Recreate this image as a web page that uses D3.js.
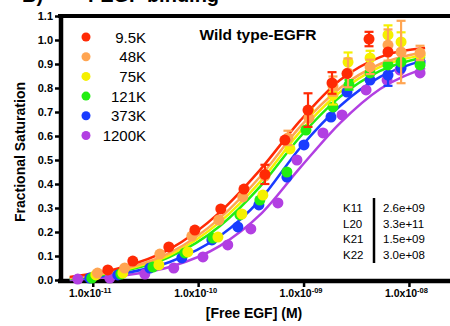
<!DOCTYPE html>
<html>
<head>
<meta charset="utf-8">
<script src="https://cdn.jsdelivr.net/npm/d3@7"></script>
<style>
    body { margin: 0; background: #fff; }
    svg { display: block; font-family: "Liberation Sans", Arial, sans-serif; }
</style>
</head>
<body>
<div id="chart"></div>
<script>
const width = 450;
const height = 326;

// legend / series
const seriesNames = ["9.5K", "48K", "75K", "121K", "373K", "1200K"];
const seriesColors = ["#ff2a05", "#ffa552", "#f5f000", "#22ee11", "#1a3cff", "#b23fe2"];

// free EGF (pM) / fractional saturation / error
const conc95 = [13.9, 24.0, 52.7, 93.1, 164, 272, 430, 665, 1102, 1862, 2582, 4178, 6324];
const sat95 = [0.042, 0.079, 0.138, 0.208, 0.296, 0.379, 0.44, 0.583, 0.708, 0.821, 0.86, 1.004, 0.95];
const err95 = [0, 0, 0, 0, 0, 0, 0.04, 0, 0.07, 0.045, 0, 0.03, 0];

const conc48 = [11.1, 20.1, 43.3, 87.1, 157, 265, 430, 711, 1125, 1901, 2642, 4276, 6324, 8414, 12735];
const sat48 = [0.029, 0.05, 0.108, 0.183, 0.25, 0.346, 0.433, 0.592, 0.675, 0.808, 0.863, 0.888, 0.979, 0.95, 0.946];
const err48 = [0, 0, 0, 0, 0, 0, 0, 0.03, 0, 0.04, 0.06, 0.03, 0.065, 0.13, 0.03];

const conc75 = [10.7, 19.3, 42.4, 79.8, 154, 260, 411, 743, 1125, 1901, 2642, 4276, 6324, 8414, 12735];
const sat75 = [0.021, 0.029, 0.063, 0.117, 0.179, 0.275, 0.354, 0.546, 0.704, 0.771, 0.908, 0.925, 1.021, 0.992, 0.938];
const err75 = [0, 0, 0, 0, 0, 0, 0, 0, 0, 0.04, 0.04, 0.03, 0.04, 0.04, 0];

const conc121 = [9.79, 18.5, 37.2, 74.8, 138, 249, 385, 695, 1054, 1901, 2698, 4276, 6324, 8414, 12735];
const sat121 = [0.008, 0.025, 0.054, 0.113, 0.175, 0.271, 0.333, 0.45, 0.625, 0.721, 0.813, 0.863, 0.896, 0.908, 0.896];
const err121 = [0, 0, 0, 0, 0, 0, 0, 0, 0, 0, 0.02, 0, 0, 0, 0];

const conc373 = [9.38, 17.3, 34.8, 70.0, 135, 238, 377, 695, 1009, 1820, 2582, 4276, 6324, 8414, 12735];
const sat373 = [0.008, 0.021, 0.05, 0.092, 0.167, 0.221, 0.313, 0.429, 0.563, 0.679, 0.783, 0.833, 0.854, 0.883, 0.908];
const err373 = [0, 0, 0, 0, 0, 0, 0, 0, 0, 0, 0, 0, 0.045, 0, 0];

const conc1200 = [7.21, 14.5, 31.2, 58.7, 111, 191, 316, 571, 865, 1528, 2317, 3917, 6194, 8222, 12735];
const sat1200 = [0.004, 0.008, 0.025, 0.05, 0.096, 0.146, 0.213, 0.321, 0.5, 0.613, 0.688, 0.792, 0.833, 0.875, 0.863];
const err1200 = [0, 0, 0, 0, 0, 0, 0, 0, 0, 0, 0, 0, 0, 0, 0];

// fitted curves, sampled from the figure
const fitConc = [6.05, 18.0, 53.8, 161, 385, 925, 2218, 5321, 14223];
const fit95 = [0.013, 0.05, 0.129, 0.283, 0.458, 0.663, 0.833, 0.929, 0.967];
const fit48 = [0.008, 0.042, 0.113, 0.258, 0.429, 0.638, 0.8, 0.9, 0.95];
const fit75 = [0.008, 0.038, 0.104, 0.242, 0.408, 0.617, 0.783, 0.888, 0.938];
const fit121 = [0.004, 0.033, 0.096, 0.225, 0.388, 0.596, 0.763, 0.871, 0.929];
const fit373 = [0.004, 0.025, 0.075, 0.183, 0.333, 0.55, 0.725, 0.846, 0.917];
const fit1200 = [0, 0.017, 0.054, 0.142, 0.271, 0.467, 0.654, 0.796, 0.883];

const xTicks = [1e-11, 1e-10, 1e-9, 1e-8];
const xTickExp = ["-11", "-10", "-09", "-08"];
const yTicks = [0, 0.1, 0.2, 0.3, 0.4, 0.5, 0.6, 0.7, 0.8, 0.9, 1.0, 1.1];

const paramNames = ["K11", "L20", "K21", "K22"];
const paramValues = ["2.6e+09", "3.3e+11", "1.5e+09", "3.0e+08"];

const concs = [conc95, conc48, conc75, conc121, conc373, conc1200];
const sats = [sat95, sat48, sat75, sat121, sat373, sat1200];
const errs = [err95, err48, err75, err121, err373, err1200];
const fits = [fit95, fit48, fit75, fit121, fit373, fit1200];

const seriesData = seriesNames.map((name, i) => ({
    name: name,
    color: seriesColors[i],
    points: concs[i].map((c, j) => ({ c: c * 1e-12, s: sats[i][j], e: errs[i][j] })),
    fit: fitConc.map((c, j) => ({ c: c * 1e-12, s: fits[i][j] })),
}));

const svg = d3
    .select("#chart")
    .append("svg")
    .attr("width", width)
    .attr("height", height);

const x = d3.scaleLog().domain([5.0e-12, 2.45e-8]).range([61, 450]);
const y = d3.scaleLinear().domain([0, 1.1]).range([280, 16]);

// panel title, cut off at the top edge as in the figure
svg.append("text")
    .attr("x", 22)
    .attr("y", 2)
    .style("font-weight", "bold")
    .style("font-size", "20px")
    .text("B)");
svg.append("text")
    .attr("x", 88)
    .attr("y", 2)
    .style("font-weight", "bold")
    .style("font-size", "20px")
    .text("I-EGF binding");

// axes
const yAxisGroup = svg.append("g").attr("transform", "translate(61,0)");
yAxisGroup.call(
    d3.axisLeft(y).tickValues(yTicks).tickFormat(d3.format(".1f")).tickSize(6).tickSizeOuter(0)
);
yAxisGroup.select(".domain").remove();
yAxisGroup.selectAll(".tick line").attr("stroke", "#000").attr("stroke-width", 2.5);
yAxisGroup
    .selectAll(".tick text")
    .attr("x", -8)
    .style("font-weight", "bold")
    .style("font-size", "11px")
    .style("fill", "#000");

const xAxisGroup = svg.append("g").attr("transform", "translate(0,281)");
xAxisGroup.call(d3.axisBottom(x).tickValues(xTicks).tickSize(6).tickSizeOuter(0));
xAxisGroup.select(".domain").remove();
xAxisGroup.selectAll(".tick line").attr("stroke", "#000").attr("stroke-width", 2.5);
xAxisGroup.selectAll(".tick text").each(function (d, i) {
    const t = d3.select(this);
    t.text(null)
        .attr("y", 16)
        .attr("dy", null)
        .attr("x", -3)
        .style("font-weight", "bold")
        .style("font-size", "10.5px")
        .style("fill", "#000");
    t.append("tspan").text("1.0x10");
    t.append("tspan").attr("dy", -4).style("font-size", "7.5px").text(xTickExp[i]);
});

// axis lines and top frame
svg.append("line")
    .attr("x1", 61).attr("x2", 61)
    .attr("y1", 14).attr("y2", 283)
    .attr("stroke", "#000").attr("stroke-width", 4.5);
svg.append("line")
    .attr("x1", 58).attr("x2", 450)
    .attr("y1", 281).attr("y2", 281)
    .attr("stroke", "#000").attr("stroke-width", 4.5);
svg.append("line")
    .attr("x1", 58).attr("x2", 450)
    .attr("y1", 16).attr("y2", 16)
    .attr("stroke", "#000").attr("stroke-width", 4);

// axis titles
svg.append("text")
    .attr("transform", "translate(25,152) rotate(-90)")
    .attr("text-anchor", "middle")
    .style("font-weight", "bold")
    .style("font-size", "14px")
    .text("Fractional Saturation");
svg.append("text")
    .attr("x", 254)
    .attr("y", 318)
    .attr("text-anchor", "middle")
    .style("font-weight", "bold")
    .style("font-size", "14px")
    .text("[Free EGF] (M)");

svg.append("text")
    .attr("x", 258)
    .attr("y", 40)
    .attr("text-anchor", "middle")
    .style("font-weight", "bold")
    .style("font-size", "15.5px")
    .text("Wild type-EGFR");

// fit lines
const valueLine = d3
    .line()
    .x((d) => x(d.c))
    .y((d) => y(d.s))
    .curve(d3.curveMonotoneX);

const lineGroup = svg.append("g").attr("id", "fitLines");
lineGroup
    .selectAll("path")
    .data(seriesData.slice().reverse())
    .enter()
    .append("path")
    .attr("d", (d) => valueLine(d.fit))
    .attr("fill", "none")
    .attr("stroke", (d) => d.color)
    .attr("stroke-width", 2.5);

// points with error bars
const pointGroup = svg.append("g").attr("id", "points");
const seriesG = pointGroup
    .selectAll("g")
    .data(seriesData.slice().reverse())
    .enter()
    .append("g")
    .attr("fill", (d) => d.color)
    .attr("stroke", (d) => d.color);

seriesG.each(function (d) {
    const g = d3.select(this);
    const withErr = d.points.filter((p) => p.e > 0);
    g.selectAll("line.bar")
        .data(withErr)
        .enter()
        .append("line")
        .attr("class", "bar")
        .attr("x1", (p) => x(p.c))
        .attr("x2", (p) => x(p.c))
        .attr("y1", (p) => y(p.s - p.e))
        .attr("y2", (p) => y(p.s + p.e))
        .attr("stroke-width", 2.2);
    g.selectAll("line.capTop")
        .data(withErr)
        .enter()
        .append("line")
        .attr("x1", (p) => x(p.c) - 4.5)
        .attr("x2", (p) => x(p.c) + 4.5)
        .attr("y1", (p) => y(p.s + p.e))
        .attr("y2", (p) => y(p.s + p.e))
        .attr("stroke-width", 2.2);
    g.selectAll("line.capBottom")
        .data(withErr)
        .enter()
        .append("line")
        .attr("x1", (p) => x(p.c) - 4.5)
        .attr("x2", (p) => x(p.c) + 4.5)
        .attr("y1", (p) => y(p.s - p.e))
        .attr("y2", (p) => y(p.s - p.e))
        .attr("stroke-width", 2.2);
    g.selectAll("circle")
        .data(d.points)
        .enter()
        .append("circle")
        .attr("cx", (p) => x(p.c))
        .attr("cy", (p) => y(p.s))
        .attr("r", 5.5)
        .attr("stroke", "none");
});

// legend
const legend = svg.append("g").attr("id", "legend");
seriesNames.forEach((name, i) => {
    legend
        .append("circle")
        .attr("cx", 86)
        .attr("cy", 37 + i * 19.7)
        .attr("r", 4.5)
        .style("fill", seriesColors[i]);
    legend
        .append("text")
        .attr("x", 146)
        .attr("y", 42.5 + i * 19.7)
        .attr("text-anchor", "end")
        .style("font-size", "15px")
        .text(name);
});

// parameter table
const table = svg.append("g").attr("id", "params");
paramNames.forEach((p, i) => {
    table
        .append("text")
        .attr("x", 343)
        .attr("y", 212 + i * 15.5)
        .style("font-size", "11.5px")
        .text(p);
    table
        .append("text")
        .attr("x", 383)
        .attr("y", 212 + i * 15.5)
        .style("font-size", "11.5px")
        .text(paramValues[i]);
});
table
    .append("line")
    .attr("x1", 374).attr("x2", 374)
    .attr("y1", 198).attr("y2", 263)
    .attr("stroke", "#000").attr("stroke-width", 2.5);
</script>
</body>
</html>
